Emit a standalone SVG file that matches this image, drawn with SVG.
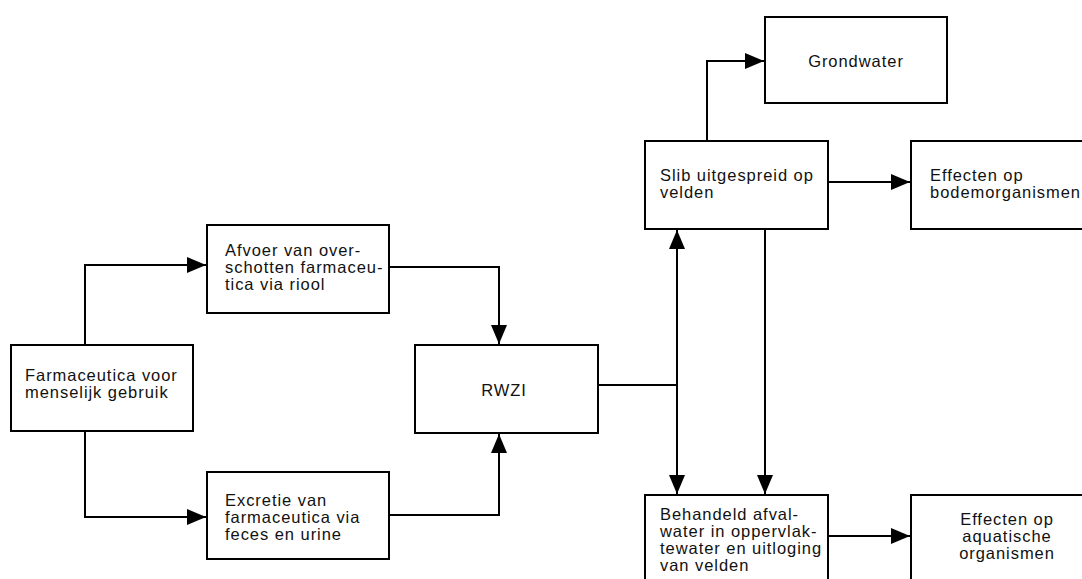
<svg xmlns="http://www.w3.org/2000/svg" width="1082" height="579" viewBox="0 0 1082 579">
<style>
.box{fill:#fff;stroke:#000;stroke-width:2}
.t{font-family:"Liberation Sans",Arial,sans-serif;font-size:16.5px;letter-spacing:0.95px;fill:#111}
.c{fill:none;stroke:#000;stroke-width:2}
</style>
<defs>
<marker id="ah" markerUnits="userSpaceOnUse" markerWidth="20" markerHeight="18" refX="19" refY="8" orient="auto">
<path d="M0,0 L19,8 L0,16 Z" fill="#000"/>
</marker>
</defs>
<rect width="1082" height="579" fill="#fff"/>
<g id="connectors">
<path class="c" d="M85,345 V265 H206" marker-end="url(#ah)"/>
<path class="c" d="M85,431 V517 H206" marker-end="url(#ah)"/>
<path class="c" d="M389,267 H499 V344" marker-end="url(#ah)"/>
<path class="c" d="M389,515 H499 V434" marker-end="url(#ah)"/>
<path class="c" d="M598,385 H677"/>
<path class="c" d="M677,385 V230" marker-end="url(#ah)"/>
<path class="c" d="M677,385 V494" marker-end="url(#ah)"/>
<path class="c" d="M765,229 V494" marker-end="url(#ah)"/>
<path class="c" d="M707,141 V61 H764" marker-end="url(#ah)"/>
<path class="c" d="M828,182 H910" marker-end="url(#ah)"/>
<path class="c" d="M828,536 H910" marker-end="url(#ah)"/>
</g>
<g id="farmaceutica">
<rect class="box" x="11" y="345" width="182" height="86"/>
<text class="t" x="25" y="381">Farmaceutica voor</text>
<text class="t" x="25" y="398">menselijk gebruik</text>
</g>
<g id="afvoer">
<rect class="box" x="207" y="225" width="182" height="88"/>
<text class="t" x="225" y="256">Afvoer van over-</text>
<text class="t" x="225" y="273">schotten farmaceu-</text>
<text class="t" x="225" y="290">tica via riool</text>
</g>
<g id="excretie">
<rect class="box" x="207" y="472" width="182" height="87"/>
<text class="t" x="225" y="506">Excretie van</text>
<text class="t" x="225" y="523">farmaceutica via</text>
<text class="t" x="225" y="540">feces en urine</text>
</g>
<g id="rwzi">
<rect class="box" x="415" y="345" width="183" height="88"/>
<text class="t" x="504" y="396" text-anchor="middle">RWZI</text>
</g>
<g id="grondwater">
<rect class="box" x="765" y="17" width="182" height="86"/>
<text class="t" x="856" y="67" text-anchor="middle">Grondwater</text>
</g>
<g id="slib">
<rect class="box" x="645" y="141" width="183" height="88"/>
<text class="t" x="660" y="181">Slib uitgespreid op</text>
<text class="t" x="660" y="198">velden</text>
</g>
<g id="effecten-bodem">
<rect class="box" x="911" y="141" width="180" height="88"/>
<text class="t" x="930" y="181">Effecten op</text>
<text class="t" x="930" y="198">bodemorganismen</text>
</g>
<g id="behandeld">
<rect class="box" x="645" y="495" width="183" height="95"/>
<text class="t" x="660" y="520">Behandeld afval-</text>
<text class="t" x="660" y="537">water in oppervlak-</text>
<text class="t" x="660" y="554">tewater en uitloging</text>
<text class="t" x="660" y="571">van velden</text>
</g>
<g id="effecten-aquatisch">
<rect class="box" x="911" y="495" width="180" height="95"/>
<text class="t" x="1007" y="525" text-anchor="middle">Effecten op</text>
<text class="t" x="1007" y="542" text-anchor="middle">aquatische</text>
<text class="t" x="1007" y="559" text-anchor="middle">organismen</text>
</g>
</svg>
